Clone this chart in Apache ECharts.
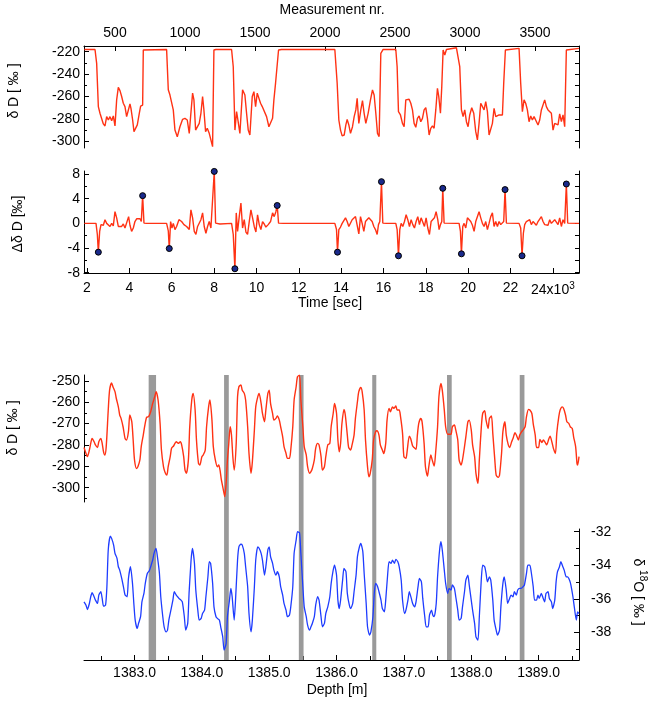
<!DOCTYPE html>
<html>
<head>
<meta charset="utf-8">
<title>δD measurement run and core record</title>
<script src="https://cdn.jsdelivr.net/npm/echarts@6.0.0/dist/echarts.min.js"></script>
<style>
  html, body { margin: 0; padding: 0; background: #fff; }
  #chart { width: 654px; height: 707px; }
</style>
</head>
<body>
<div id="chart"></div>
<script>
// ---- data ----
// run: time [sec] vs dD [permil]
const runDeltaD = [
  [1874,-218],[2378,-218],[2456,-230.4],[2535,-269],[2613,-275],[2771,-284.5],[2849,-286.3],[2928,-278],[3007,-281],[3085,-278],[3164,-281.6],[3242,-277.4],[3321,-286.3],[3400,-263],[3478,-251.8],[3557,-254.8],[3636,-260],[3714,-266],[3793,-269],[3871,-278],[3950,-278.6],[4029,-266.7],[4076,-270.6],[4155,-281],[4218,-291.4],[4297,-292.3],[4375,-285.4],[4469,-275],[4532,-268.5],[4627,-267.6],[4658,-218.5],[4737,-218],
  [5759,-218],[5838,-254],[5917,-258.7],[5995,-257],[6074,-272],[6153,-290],[6263,-296],[6388,-287],[6514,-280.4],[6624,-279.5],[6734,-281],[6829,-292.9],[6892,-278],[6986,-257],[7049,-263],[7128,-290],[7206,-288.4],[7300,-284],[7379,-275],[7458,-260],[7520,-272],[7599,-291.4],[7678,-288.4],[7772,-292.9],[7851,-292.9],[7930,-304.8],[7993,-218.5],[8088,-218],
  [8827,-218],[8906,-233.4],[8985,-290],[9063,-273.5],[9126,-281],[9220,-293],[9346,-254],[9456,-258.7],[9535,-275],[9614,-290],[9692,-294.4],[9803,-260],[9881,-255.7],[9960,-269],[10039,-257],[10117,-255.7],[10196,-266],[10275,-269],[10353,-269],[10479,-278],[10589,-287],[10668,-288.4],[10762,-279.5],[10825,-263],[10904,-248],[10982,-246.8],[11045,-218.5],[11187,-218],
  [13703,-218],[13813,-248.2],[13892,-281],[13971,-290],[14049,-295.2],[14144,-294.4],[14223,-285.4],[14285,-280.4],[14364,-285.4],[14443,-292.9],[14537,-287],[14616,-278],[14694,-272],[14757,-261.6],[14836,-284],[14930,-272],[15009,-263.7],[15087,-275],[15166,-284],[15276,-275],[15386,-263],[15481,-254.2],[15559,-258.7],[15638,-275],[15717,-292.9],[15795,-295.8],[15874,-221.5],[15984,-218],
  [16582,-218],[16645,-233.4],[16708,-273.5],[16802,-276.5],[16897,-284],[16975,-287],[17054,-263],[17133,-264.6],[17211,-262.5],[17290,-266],[17369,-272],[17447,-284],[17526,-287.5],[17604,-279.5],[17683,-277.4],[17762,-282.5],[17840,-279.5],[17919,-272],[17998,-270],[18076,-279.5],[18155,-294.4],[18234,-288.4],[18312,-286.3],[18391,-288.4],[18470,-272],[18548,-252.7],[18611,-260],[18690,-275],[18753,-251.2],[18816,-218.5],[18895,-223],[18973,-218],
  [19445,-216.5],[19524,-217],[19602,-233.4],[19681,-272],[19760,-278],[19838,-272],[19917,-282.5],[19995,-287],[20074,-276.5],[20168,-270],[20263,-275],[20357,-291.4],[20436,-298.8],[20514,-284],[20593,-266],[20672,-267.6],[20750,-272],[20829,-264.6],[20908,-273.5],[20986,-294.4],[21065,-295.8],[21144,-284],[21222,-270.6],[21301,-278],[21380,-279.5],[21458,-276.5],[21537,-278],[21616,-276.5],[21678,-248.2],[21757,-218.5],[21835,-217],
  [22402,-217],[22480,-248.2],[22559,-273.5],[22638,-263],[22716,-266],[22795,-272],[22874,-282.5],[22952,-277.4],[23031,-281],[23110,-278],[23188,-278.6],[23298,-285.4],[23377,-281],[23456,-272],[23534,-272],[23613,-263],[23692,-269],[23770,-272],[23849,-273.5],[23928,-275],[24006,-290],[24085,-284],[24164,-282.5],[24242,-285.4],[24321,-275.6],[24400,-282.5],[24478,-276.5],[24557,-287],[24636,-218.5],[24714,-217],[25233,-217]
];

// run: time [sec] vs delta dD [permil]
const runDiff = [
  [1874,0],[2425,0],[2488,-1.8],[2535,-4.67],[2598,-1.3],[2661,-0.2],[2771,-0.3],[2849,0.6],[2928,0],[3007,0.3],[3085,-0.5],[3164,0],[3242,-0.4],[3321,1.9],[3400,0.9],[3478,-0.5],[3557,-0.2],[3636,-0.5],[3714,-0.1],[3793,-0.75],[3871,-0.6],[3965,1.1],[4029,-0.3],[4107,-1.3],[4186,-0.75],[4264,0.3],[4343,0.75],[4422,1.0],[4501,0.75],[4564,0.3],[4627,4.5],[4690,0.05],[4816,0],
  [5759,0],[5838,-1.2],[5885,-4.08],[5948,0.3],[6011,-0.75],[6074,0],[6153,-1.0],[6231,-0.5],[6341,0.6],[6467,0.3],[6577,-0.2],[6703,-0.5],[6829,-1.0],[6907,2.2],[6986,0.9],[7065,-1.3],[7143,-1.8],[7222,-0.5],[7300,-0.2],[7379,0.6],[7458,1.7],[7536,-0.5],[7615,-1.6],[7694,-0.5],[7772,0.3],[7851,-0.75],[7930,-1.0],[8009,8.43],[8072,0.05],[8276,-0.1],
  [8827,0],[8906,-1.8],[8984,-7.36],[9047,1.7],[9110,-1.3],[9189,1.1],[9268,3.3],[9346,-0.75],[9425,0.6],[9504,-1.4],[9582,-1.8],[9661,0.3],[9740,2.2],[9818,0.9],[9897,-0.5],[9976,-1.4],[10054,1.4],[10133,-0.2],[10211,-1.0],[10290,0.3],[10369,-0.1],[10447,-0.6],[10557,-0.2],[10668,0.3],[10762,1.7],[10841,1.1],[10919,1.9],[10982,2.9],[11045,0.05],[11265,0],
  [13703,0],[13782,-1.0],[13829,-4.67],[13892,-1.0],[13971,-0.6],[14049,0],[14128,0.3],[14207,0.9],[14285,0.3],[14364,-0.5],[14443,-0.75],[14521,0.6],[14600,0.9],[14679,1.1],[14757,0.9],[14836,-1.7],[14915,1.1],[14993,0],[15072,-1.3],[15150,0.3],[15229,0.6],[15308,0.9],[15386,1.1],[15465,0.3],[15544,-0.5],[15622,-1.0],[15701,-1.8],[15764,-0.2],[15827,0.3],[15905,6.77],[15968,0.05],[16141,0],
  [16582,0],[16645,-1.0],[16708,-5.26],[16771,-1.0],[16834,0],[16912,-0.5],[16991,0.3],[17070,1.4],[17148,0.6],[17227,-0.5],[17306,0.6],[17384,-0.2],[17463,-0.75],[17541,0.3],[17620,1.1],[17699,-0.2],[17777,0.9],[17856,0.6],[17935,-0.5],[18013,0.9],[18092,-0.75],[18170,-1.8],[18249,0.3],[18328,0.6],[18406,0.9],[18485,1.9],[18564,0.6],[18627,-1.0],[18690,-0.2],[18753,0.3],[18800,5.69],[18863,0.05],[19445,0],
  [19571,0],[19634,-1.3],[19681,-4.94],[19744,-0.5],[19807,0],[19885,-0.75],[19964,0.9],[20043,1.1],[20121,0.3],[20200,-0.3],[20279,-1.3],[20357,0.3],[20436,0.6],[20514,1.9],[20593,0.9],[20672,0],[20750,-0.5],[20829,0.3],[20908,-1.0],[20986,0],[21065,1.1],[21144,1.7],[21222,-0.5],[21301,0.3],[21380,-0.5],[21458,0.3],[21537,-0.2],[21616,0],[21678,0.3],[21741,5.48],[21804,0.05],
  [22402,0],[22480,-0.75],[22543,-5.26],[22606,-1.6],[22669,-0.2],[22747,0.3],[22826,0],[22905,0.6],[22983,-0.2],[23062,0.3],[23141,0],[23219,-0.3],[23298,0.3],[23377,0],[23456,1.1],[23534,0.3],[23613,-0.2],[23692,0],[23770,-0.3],[23849,0.6],[23928,0],[24006,-0.3],[24085,0.6],[24164,0.3],[24242,-0.2],[24321,0.9],[24400,-0.5],[24478,0.6],[24557,0],[24636,6.39],[24699,0.05],[25233,0]
];

// transition peaks marked with dots
const runPeaks = [
  [2535,-4.67],[4627,4.5],[5885,-4.08],[8009,8.43],[8984,-7.36],[10982,2.9],[13829,-4.67],
  [15905,6.77],[16708,-5.26],[18800,5.69],[19681,-4.94],[21741,5.48],[22543,-5.26],[24636,6.39]
];

// core: depth [m] vs dD [permil]
const coreDeltaD = [
  [1382.25,-281.2],[1382.28,-284],[1382.30,-285.5],[1382.33,-282.4],[1382.35,-279.3],[1382.37,-277],[1382.40,-278.5],[1382.42,-280],[1382.45,-281.2],[1382.47,-278.5],[1382.50,-277],[1382.52,-279.3],[1382.54,-283.2],[1382.56,-284.7],[1382.58,-280.8],[1382.61,-263.7],[1382.63,-254.4],[1382.66,-251],[1382.68,-252.8],[1382.71,-255.1],[1382.73,-258.3],[1382.76,-262.2],[1382.78,-266],[1382.80,-267.6],[1382.83,-271.5],[1382.86,-277],[1382.88,-277.7],[1382.91,-273.8],[1382.93,-266],[1382.96,-269.2],[1382.98,-277.7],
  [1383.00,-287],[1383.03,-291],[1383.05,-290.2],[1383.08,-287],[1383.10,-280.8],[1383.13,-275.4],[1383.15,-271.5],[1383.18,-267.1],[1383.21,-266.8],[1383.24,-264.5],[1383.27,-260.6],[1383.30,-257.5],[1383.32,-255.1],[1383.35,-259],[1383.38,-270],[1383.40,-282.4],[1383.43,-290.2],[1383.45,-292.5],[1383.48,-294.1],[1383.50,-290.2],[1383.53,-285.5],[1383.55,-281.6],[1383.58,-280.5],[1383.60,-279.3],[1383.62,-278.5],[1383.65,-279.3],[1383.68,-278.5],[1383.70,-280],[1383.73,-285.5],[1383.75,-291.8],[1383.77,-293.3],[1383.80,-287],[1383.82,-271.5],[1383.85,-259],[1383.87,-255.9],[1383.90,-263.7],[1383.92,-277.7],[1383.95,-288.6],[1383.97,-289.4],
  [1384.00,-285.5],[1384.02,-284.7],[1384.05,-282.4],[1384.07,-271.5],[1384.10,-262.2],[1384.12,-259],[1384.15,-268.4],[1384.17,-280.8],[1384.20,-287],[1384.23,-290.2],[1384.25,-289.4],[1384.27,-291.8],[1384.29,-296.4],[1384.32,-301.1],[1384.34,-304.2],[1384.36,-298],[1384.38,-287],[1384.40,-279.3],[1384.42,-271.5],[1384.44,-275.4],[1384.46,-285.5],[1384.48,-291.8],[1384.51,-279.3],[1384.53,-257.5],[1384.55,-252.8],[1384.58,-252],[1384.60,-254.4],[1384.63,-255.9],[1384.65,-259],[1384.68,-271.5],[1384.70,-284],[1384.73,-293.3],[1384.75,-287.9],[1384.78,-273],[1384.80,-262.2],[1384.83,-257.5],[1384.85,-255.9],[1384.88,-260.6],[1384.90,-265.3],[1384.93,-269.2],[1384.95,-263.7],[1384.98,-255.9],
  [1385.00,-254.4],[1385.02,-260.6],[1385.05,-265.3],[1385.07,-268.4],[1385.10,-267.6],[1385.12,-266.5],[1385.15,-268.4],[1385.17,-271.5],[1385.20,-276.2],[1385.22,-280.8],[1385.25,-284],[1385.27,-286.3],[1385.30,-286.3],[1385.32,-282.4],[1385.35,-271.5],[1385.37,-259],[1385.40,-252.8],[1385.42,-248.1],[1385.45,-247.4],[1385.47,-259],[1385.50,-271.5],[1385.52,-280.8],[1385.55,-284.7],[1385.57,-290.2],[1385.60,-293.3],[1385.62,-292.5],[1385.64,-291],[1385.67,-287],[1385.69,-281.6],[1385.72,-279.3],[1385.74,-280],[1385.77,-285.5],[1385.79,-291.8],[1385.82,-290.2],[1385.84,-285.5],[1385.87,-280],[1385.90,-279.3],[1385.92,-271.5],[1385.95,-265.3],[1385.97,-260.6],
  [1386.00,-265.3],[1386.02,-277.7],[1386.04,-283.2],[1386.06,-279.3],[1386.08,-270],[1386.11,-263.4],[1386.13,-266],[1386.16,-275.4],[1386.18,-281.2],[1386.21,-282.4],[1386.23,-280],[1386.26,-275.4],[1386.28,-267.6],[1386.31,-259.8],[1386.33,-255.1],[1386.36,-253.1],[1386.38,-255.1],[1386.41,-263.7],[1386.43,-277.7],[1386.46,-290.2],[1386.48,-294.9],[1386.50,-293.3],[1386.53,-287],[1386.55,-277.7],[1386.58,-273.8],[1386.60,-273.4],[1386.63,-275.4],[1386.65,-280],[1386.68,-282.4],[1386.70,-284],[1386.73,-279.3],[1386.75,-268.4],[1386.78,-262.9],[1386.80,-264.5],[1386.83,-262.2],[1386.85,-262.9],[1386.88,-261.8],[1386.90,-263.7],[1386.93,-263.7],[1386.95,-266.8],[1386.98,-274.6],
  [1387.00,-285.5],[1387.03,-286.3],[1387.05,-282.4],[1387.08,-275.9],[1387.10,-277],[1387.13,-280.5],[1387.15,-281.2],[1387.18,-282.1],[1387.20,-275.4],[1387.22,-270],[1387.25,-267.6],[1387.27,-269.2],[1387.30,-279.3],[1387.32,-290.2],[1387.35,-294.6],[1387.37,-290.2],[1387.40,-284.7],[1387.42,-287],[1387.45,-289.9],[1387.47,-284],[1387.50,-271.5],[1387.52,-257.5],[1387.55,-251.2],[1387.57,-254.4],[1387.60,-263.7],[1387.62,-271.5],[1387.65,-275],[1387.67,-275],[1387.70,-275],[1387.72,-271.5],[1387.75,-270.7],[1387.77,-273],[1387.80,-277.7],[1387.82,-287],[1387.85,-289.4],[1387.87,-287],[1387.90,-280.8],[1387.92,-276.2],[1387.95,-269.2],[1387.97,-268.4],
  [1388.00,-273],[1388.02,-280],[1388.05,-285.5],[1388.07,-293.3],[1388.10,-298],[1388.12,-287],[1388.15,-271.5],[1388.17,-265.3],[1388.20,-264],[1388.22,-268.4],[1388.25,-272.3],[1388.27,-267.6],[1388.30,-266.5],[1388.32,-274.6],[1388.35,-287],[1388.37,-294.1],[1388.40,-295.2],[1388.42,-294.1],[1388.45,-284],[1388.47,-273.8],[1388.50,-269.2],[1388.52,-275.4],[1388.55,-280],[1388.57,-281.2],[1388.60,-278.5],[1388.62,-277],[1388.65,-274.3],[1388.67,-275.4],[1388.70,-277.7],[1388.72,-275.4],[1388.75,-273.8],[1388.77,-273],[1388.80,-271.5],[1388.82,-266.8],[1388.85,-263.4],[1388.87,-263.7],[1388.90,-265.3],[1388.92,-270],[1388.95,-275.4],[1388.97,-281.2],
  [1389.00,-281.2],[1389.02,-277.4],[1389.05,-278.9],[1389.07,-277.7],[1389.10,-278.9],[1389.12,-280],[1389.15,-277.4],[1389.17,-275.9],[1389.20,-278.9],[1389.22,-281.6],[1389.25,-284],[1389.27,-274.6],[1389.30,-266.8],[1389.32,-263.7],[1389.35,-262.2],[1389.37,-262.9],[1389.40,-266],[1389.42,-269.2],[1389.45,-270],[1389.47,-271.5],[1389.50,-272.3],[1389.52,-276.2],[1389.55,-280.8],[1389.57,-288.6],[1389.58,-289.4],[1389.60,-285.5]
];

// core: depth [m] vs d18O [permil]
const coreD18O = [
  [1382.25,-36.18],[1382.28,-36.38],[1382.30,-36.64],[1382.33,-36.28],[1382.35,-35.88],[1382.37,-35.64],[1382.40,-35.88],[1382.42,-36.08],[1382.45,-36.28],[1382.47,-35.78],[1382.50,-35.58],[1382.52,-35.98],[1382.54,-36.44],[1382.57,-36.38],[1382.59,-35.28],[1382.61,-33.09],[1382.64,-32.26],[1382.66,-32.4],[1382.69,-32.8],[1382.71,-33.29],[1382.74,-33.59],[1382.76,-34.09],[1382.78,-34.29],[1382.81,-34.79],[1382.84,-35.38],[1382.86,-35.78],[1382.89,-35.88],[1382.91,-34.79],[1382.94,-34.09],[1382.97,-35.08],[1382.99,-36.28],
  [1383.01,-37.27],[1383.04,-37.77],[1383.06,-37.47],[1383.09,-37.07],[1383.11,-36.18],[1383.14,-35.68],[1383.16,-35.08],[1383.19,-34.49],[1383.22,-34.33],[1383.24,-34.09],[1383.27,-33.69],[1383.29,-33.29],[1383.32,-32.99],[1383.34,-33.49],[1383.37,-34.49],[1383.39,-35.88],[1383.42,-37.07],[1383.44,-37.67],[1383.47,-37.97],[1383.49,-37.87],[1383.51,-37.27],[1383.54,-36.68],[1383.57,-36.08],[1383.59,-35.58],[1383.62,-35.78],[1383.64,-35.88],[1383.66,-35.98],[1383.69,-36.08],[1383.71,-36.18],[1383.74,-37.07],[1383.76,-37.87],[1383.79,-37.47],[1383.81,-35.68],[1383.84,-33.69],[1383.86,-32.99],[1383.89,-33.89],[1383.91,-35.48],[1383.94,-36.68],[1383.96,-37.27],[1383.99,-37.17],
  [1384.01,-36.88],[1384.04,-36.68],[1384.06,-35.88],[1384.09,-34.69],[1384.11,-33.79],[1384.13,-33.89],[1384.16,-35.08],[1384.18,-36.48],[1384.21,-37.07],[1384.23,-37.17],[1384.26,-37.27],[1384.28,-37.67],[1384.31,-38.27],[1384.33,-39.06],[1384.36,-38.67],[1384.38,-37.07],[1384.41,-36.08],[1384.43,-35.38],[1384.45,-35.88],[1384.48,-37.27],[1384.50,-36.08],[1384.53,-33.69],[1384.55,-32.9],[1384.58,-32.74],[1384.60,-32.8],[1384.63,-33.29],[1384.65,-34.09],[1384.68,-35.28],[1384.70,-36.88],[1384.73,-37.97],[1384.75,-37.27],[1384.78,-35.28],[1384.80,-33.69],[1384.83,-32.9],[1384.85,-32.99],[1384.88,-33.29],[1384.90,-33.69],[1384.93,-34.59],[1384.95,-34.09],[1384.98,-33.09],
  [1385.00,-32.9],[1385.02,-33.49],[1385.05,-33.89],[1385.07,-34.29],[1385.10,-34.59],[1385.12,-34.39],[1385.15,-34.69],[1385.17,-35.28],[1385.20,-35.78],[1385.22,-36.28],[1385.25,-36.68],[1385.27,-37.07],[1385.30,-36.98],[1385.32,-36.48],[1385.35,-35.28],[1385.37,-33.29],[1385.40,-32.5],[1385.42,-32.0],[1385.45,-32.06],[1385.47,-33.29],[1385.50,-35.28],[1385.52,-36.48],[1385.55,-37.07],[1385.57,-37.57],[1385.60,-37.87],[1385.62,-37.67],[1385.64,-37.47],[1385.67,-37.07],[1385.69,-36.38],[1385.72,-35.88],[1385.74,-36.08],[1385.77,-37.07],[1385.79,-37.67],[1385.82,-37.47],[1385.84,-36.88],[1385.87,-36.48],[1385.90,-35.88],[1385.92,-35.08],[1385.95,-34.29],[1385.97,-33.99],
  [1386.00,-34.59],[1386.02,-36.08],[1386.04,-36.58],[1386.06,-36.08],[1386.09,-34.89],[1386.11,-34.19],[1386.14,-34.39],[1386.16,-35.68],[1386.19,-36.38],[1386.21,-36.58],[1386.24,-36.28],[1386.26,-35.58],[1386.29,-34.59],[1386.31,-33.49],[1386.34,-32.9],[1386.36,-32.7],[1386.39,-33.19],[1386.41,-34.49],[1386.44,-36.28],[1386.46,-37.67],[1386.49,-38.17],[1386.51,-37.97],[1386.54,-37.07],[1386.56,-35.68],[1386.58,-35.08],[1386.61,-35.28],[1386.63,-35.58],[1386.66,-36.08],[1386.68,-36.58],[1386.71,-36.78],[1386.73,-36.08],[1386.76,-34.49],[1386.78,-33.79],[1386.81,-33.89],[1386.83,-33.69],[1386.86,-33.89],[1386.88,-33.65],[1386.91,-33.79],[1386.93,-34.09],[1386.96,-34.89],[1386.98,-36.08],
  [1387.01,-36.88],[1387.03,-36.68],[1387.06,-36.08],[1387.08,-35.58],[1387.11,-35.98],[1387.13,-36.28],[1387.16,-36.48],[1387.18,-36.18],[1387.21,-35.28],[1387.23,-34.79],[1387.26,-34.99],[1387.28,-35.98],[1387.31,-37.07],[1387.33,-37.67],[1387.36,-37.67],[1387.38,-36.98],[1387.41,-36.68],[1387.43,-36.98],[1387.45,-37.07],[1387.48,-36.28],[1387.50,-34.69],[1387.53,-33.09],[1387.55,-32.6],[1387.57,-33.09],[1387.60,-34.29],[1387.62,-35.08],[1387.65,-35.68],[1387.67,-35.38],[1387.70,-35.48],[1387.72,-35.18],[1387.75,-35.38],[1387.77,-35.88],[1387.80,-36.68],[1387.82,-37.27],[1387.85,-37.17],[1387.87,-36.48],[1387.90,-35.58],[1387.92,-34.89],[1387.95,-34.59],[1387.97,-35.18],
  [1388.00,-36.08],[1388.02,-36.68],[1388.05,-37.47],[1388.07,-38.27],[1388.10,-38.47],[1388.12,-37.07],[1388.15,-34.79],[1388.17,-33.99],[1388.20,-34.09],[1388.22,-34.49],[1388.24,-34.99],[1388.27,-34.69],[1388.29,-34.89],[1388.32,-36.08],[1388.34,-37.27],[1388.37,-37.87],[1388.39,-38.17],[1388.42,-37.87],[1388.44,-36.48],[1388.47,-35.08],[1388.49,-34.69],[1388.52,-35.48],[1388.54,-36.28],[1388.57,-35.98],[1388.59,-35.78],[1388.62,-35.88],[1388.64,-35.58],[1388.67,-35.78],[1388.69,-35.48],[1388.72,-35.38],[1388.74,-35.38],[1388.77,-35.28],[1388.79,-35.18],[1388.82,-34.49],[1388.84,-33.99],[1388.87,-33.99],[1388.89,-34.39],[1388.92,-35.28],[1388.94,-36.08],[1388.97,-36.08],
  [1388.99,-35.78],[1389.01,-35.98],[1389.04,-35.68],[1389.06,-35.88],[1389.09,-36.18],[1389.11,-35.68],[1389.14,-35.58],[1389.16,-35.98],[1389.19,-36.18],[1389.21,-36.58],[1389.24,-36.08],[1389.26,-34.99],[1389.28,-34.39],[1389.31,-34.09],[1389.33,-33.79],[1389.36,-34.09],[1389.38,-34.29],[1389.41,-34.69],[1389.43,-34.69],[1389.46,-34.89],[1389.48,-35.18],[1389.51,-35.88],[1389.53,-36.48],[1389.56,-37.27],[1389.58,-36.78],[1389.60,-36.88]
];

// grey depth bands (from, to) [m]
const bandRanges = [
  [1383.21, 1383.32], [1384.33, 1384.40], [1385.44, 1385.51],
  [1386.53, 1386.59], [1387.64, 1387.71], [1388.72, 1388.79]
];

// tick values
const measTicks = [500, 1000, 1500, 2000, 2500, 3000, 3500];
const timeTicks = [2000, 4000, 6000, 8000, 10000, 12000, 14000, 16000, 18000, 20000, 22000, 24000];
const runDDMajor = [-300, -280, -260, -240, -220];
const runDDMinor = [-290, -270, -250, -230];
const diffMajor = [-8, -4, 0, 4, 8];
const diffMinor = [-6, -2, 2, 6];
const coreDDMajor = [-300, -290, -280, -270, -260, -250];
const coreDDMinor = [-305, -295, -285, -275, -265, -255];
const d18OMajor = [-38, -36, -34, -32];
const d18OMinor = [-39, -37, -35, -33];
const depthMajor = [1383, 1384, 1385, 1386, 1387, 1388, 1389];
const depthMinor = [1382.5, 1383.5, 1384.5, 1385.5, 1386.5, 1387.5, 1388.5, 1389.5];

// ---- chart ----
const FONT = '"Liberation Sans", Arial, Helvetica, sans-serif';
const RED = '#ff3214';
const BLUE = '#1e3cff';

const chart = echarts.init(document.getElementById('chart'));

// one value axis; ticks and labels only where the arrays say
function axis(o) {
  return {
    type: 'value',
    gridIndex: o.grid,
    position: o.pos,
    show: o.show !== false,
    min: o.min,
    max: o.max,
    splitLine: { show: false },
    axisLine: { show: o.line !== false, onZero: false, lineStyle: { color: '#000', width: 1 } },
    axisTick: o.ticks
      ? { show: true, inside: true, length: o.tickLen || 5, customValues: o.ticks, lineStyle: { color: '#000', width: 1 } }
      : { show: false },
    axisLabel: o.labels
      ? { show: true, customValues: o.labels, margin: o.margin, color: '#000', fontFamily: FONT, fontSize: 14,
          formatter: o.fmt || (v => String(v)), rich: o.rich }
      : { show: false }
  };
}

const timeMin = 1858, timeMax = 25233;
const depthMin = 1382.25, depthMax = 1389.6;

const all10 = runDDMajor.concat(runDDMinor);
const all2 = diffMajor.concat(diffMinor);

function titleText(text, x, y, rot, rich) {
  return {
    type: 'text', x: x, y: y, rotation: rot || 0, z: 100,
    style: { text: text, fill: '#000', fontFamily: FONT, fontSize: 14, align: 'center', verticalAlign: 'middle', rich: rich }
  };
}

const lineStyleRun = { color: RED, width: 1.4 };

const option = {
  animation: false,
  backgroundColor: '#fff',
  grid: [
    { left: 84, right: 75, top: 46, height: 102 },
    { left: 84, right: 75, top: 171, height: 102 },
    { left: 84, right: 75, top: 375, height: 127 },
    { left: 84, right: 75, top: 529, height: 131 },
    { left: 84, right: 75, top: 375, height: 285 }
  ],
  xAxis: [
    axis({ grid: 0, pos: 'bottom', show: false, min: timeMin, max: timeMax }),
    axis({ grid: 0, pos: 'top', min: 278.6, max: 3814, ticks: measTicks, labels: measTicks, margin: 6 }),
    axis({
      grid: 1, pos: 'bottom', min: timeMin, max: timeMax, ticks: timeTicks, labels: timeTicks, margin: 8,
      fmt: v => (v === 24000 ? '{n|24x10}{s|3}' : String(v / 1000)),
      rich: { n: { fontFamily: FONT, fontSize: 14, color: '#000' }, s: { fontFamily: FONT, fontSize: 10, color: '#000', padding: [0, 0, 9, 0] } }
    }),
    axis({ grid: 2, pos: 'bottom', show: false, min: depthMin, max: depthMax }),
    axis({ grid: 3, pos: 'bottom', min: depthMin, max: depthMax, ticks: depthMajor, labels: depthMajor, margin: 6, fmt: v => v.toFixed(1) }),
    axis({ grid: 3, pos: 'bottom', line: false, min: depthMin, max: depthMax, ticks: depthMinor, tickLen: 4 }),
    axis({ grid: 4, pos: 'bottom', show: false, min: depthMin, max: depthMax })
  ],
  yAxis: [
    axis({ grid: 0, pos: 'left', min: -306, max: -214.9, ticks: runDDMajor, labels: runDDMajor, margin: 4 }),
    axis({ grid: 0, pos: 'left', line: false, min: -306, max: -214.9, ticks: runDDMinor, tickLen: 3 }),
    axis({ grid: 0, pos: 'right', min: -306, max: -214.9, ticks: all10, tickLen: 4 }),
    axis({ grid: 1, pos: 'left', min: -8.05, max: 8.5, ticks: diffMajor, labels: diffMajor, margin: 4 }),
    axis({ grid: 1, pos: 'left', line: false, min: -8.05, max: 8.5, ticks: diffMinor, tickLen: 3 }),
    axis({ grid: 1, pos: 'right', min: -8.05, max: 8.5, ticks: all2, tickLen: 4 }),
    axis({ grid: 2, pos: 'left', min: -306.7, max: -247.3, ticks: coreDDMajor, labels: coreDDMajor, margin: 4 }),
    axis({ grid: 2, pos: 'left', line: false, min: -306.7, max: -247.3, ticks: coreDDMinor, tickLen: 3 }),
    axis({ grid: 3, pos: 'right', min: -39.65, max: -31.84, ticks: d18OMajor, labels: d18OMajor, margin: 12 }),
    axis({ grid: 3, pos: 'right', line: false, min: -39.65, max: -31.84, ticks: d18OMinor, tickLen: 3 }),
    axis({ grid: 4, pos: 'left', show: false, min: 0, max: 1 })
  ],
  graphic: [
    titleText('Measurement nr.', 332, 10),
    titleText('δ D [ ‰ ]', 14, 91, Math.PI / 2),
    titleText('Δδ D [‰]', 18, 224, Math.PI / 2),
    titleText('Time [sec]', 330, 303),
    titleText('δ D [ ‰ ]', 13, 428, Math.PI / 2),
    titleText('Depth [m]', 337, 690),
    titleText('{a|δ }{s|18}{a|O [ ‰ ]}', 638, 592, -Math.PI / 2, {
      a: { fontFamily: FONT, fontSize: 14, color: '#000' },
      s: { fontFamily: FONT, fontSize: 10, color: '#000', padding: [0, 0, 9, 0] }
    })
  ],
  series: [
    {
      name: 'bands', type: 'line', xAxisIndex: 6, yAxisIndex: 10, data: [], silent: true, z: 1,
      markArea: {
        silent: true,
        itemStyle: { color: '#9a9a9a' },
        data: bandRanges.map(r => [{ xAxis: r[0] }, { xAxis: r[1] }])
      }
    },
    {
      name: 'run dD', type: 'line', xAxisIndex: 0, yAxisIndex: 0, data: runDeltaD,
      showSymbol: false, symbol: 'none', z: 3, lineStyle: lineStyleRun
    },
    {
      name: 'run delta dD', type: 'line', xAxisIndex: 2, yAxisIndex: 3, data: runDiff,
      showSymbol: false, symbol: 'none', z: 3, lineStyle: lineStyleRun
    },
    {
      name: 'peaks', type: 'scatter', xAxisIndex: 2, yAxisIndex: 3, data: runPeaks,
      symbolSize: 6, z: 5, itemStyle: { color: '#1a2a8c', borderColor: '#000', borderWidth: 1, opacity: 1 }
    },
    {
      name: 'core dD', type: 'line', xAxisIndex: 3, yAxisIndex: 6, data: coreDeltaD,
      showSymbol: false, symbol: 'none', smooth: 0.25, z: 3, lineStyle: { color: RED, width: 1.4 }
    },
    {
      name: 'core d18O', type: 'line', xAxisIndex: 4, yAxisIndex: 8, data: coreD18O,
      showSymbol: false, symbol: 'none', smooth: 0.2, z: 3, lineStyle: { color: BLUE, width: 1.3 }
    }
  ]
};

chart.setOption(option);
</script>
</body>
</html>
